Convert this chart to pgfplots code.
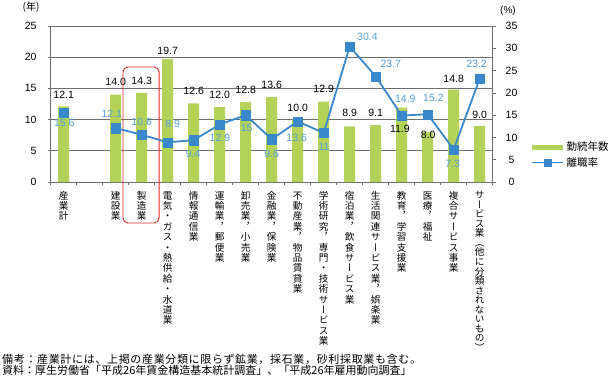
\documentclass[border=0pt]{standalone}
\usepackage{fontspec}
\setmainfont{Liberation Sans}
\newfontfamily\jp{Noto Sans CJK JP}
\newfontfamily\jpls[LetterSpace=6]{Noto Sans CJK JP}
\newfontfamily\jpv[RawFeature=+vert]{Noto Sans CJK JP}
\usepackage{pgfplots}
\pgfplotsset{compat=1.18}
\definecolor{barg}{RGB}{180,210,88}
\definecolor{lineb}{RGB}{58,136,204}
\definecolor{labb}{RGB}{84,158,220}
\definecolor{gridc}{RGB}{110,110,110}
\definecolor{boxr}{RGB}{225,40,40}
\pgfplotsset{
  legbar/.style={legend image code/.code={\draw[##1] (0pt,0pt) -- (31pt,0pt);}},
  legline/.style={legend image code/.code={\draw[##1, mark size=3.6pt, line width=1.4pt, mark repeat=2, mark phase=2] plot coordinates {(0pt,0pt) (15.5pt,0pt) (31pt,0pt)};}},
}
\makeatletter
\newcommand\vt[2][10.4]{\def\vt@h{#1}\vbox{\offinterlineskip\vt@a#2\relax}}
\def\vt@a#1{\ifx\relax#1\else\hbox to 10pt{\hss\vrule height \dimexpr\vt@h pt/2+3.7pt\relax depth \dimexpr\vt@h pt/2-3.7pt\relax width 0pt\jpv\fontsize{9.6}{10}\selectfont #1\hss}\expandafter\vt@a\fi}
\makeatother
\newcommand\numf{\fontsize{10.5}{12}\selectfont}
\begin{document}
\begin{tikzpicture}
\useasboundingbox (0,0) rectangle (608pt,386pt);
\begin{axis}[
  at={(50.7pt,204pt)}, anchor=south west,
  scale only axis, width=442pt, height=156pt,
  xmin=-0.5, xmax=16.5, ymin=0, ymax=25,
  ytick={0,5,...,25},
  xtick={-0.5,0.5,...,16.5},
  x tick label as interval,
  xticklabels={{\vt{産業計}},{},{\vt{建設業}},{\vt{製造業}},{\vt{電気・ガス・熱供給・水道業}},{\vt{情報通信業}},{\vt{運輸業，郵便業}},{\vt{卸売業，小売業}},{\vt{金融業，保険業}},{\vt{不動産業，物品賃貸業}},{\vt{学術研究，専門・技術サービス業}},{\vt{宿泊業，飲食サービス業}},{\vt{生活関連サービス業，娯楽業}},{\vt{教育，学習支援業}},{\vt{医療，福祉}},{\vt{複合サービス事業}},{\vt[9.55]{サービス業（他に分類されないもの）}}},
  xticklabel style={anchor=north, inner sep=0pt, yshift=-5pt},
  axis x line*=bottom, axis y line*=left,
  axis line style={gridc, line width=0.7pt},
  ymajorgrids, grid style={gridc, line width=0.7pt},
  tick align=outside, major tick length=3pt,
  tick style={gridc, line width=0.7pt},
  yticklabel style={font=\numf, anchor=east, inner sep=0pt, xshift=-11pt},
  /pgf/number format/assume math mode=true,
  clip=false,
]
\addplot[ybar, bar width=11pt, fill=barg, draw=none] coordinates {
 (0,12.1) (2,14.0) (3,14.3) (4,19.7) (5,12.6) (6,12.0) (7,12.8) (8,13.6)
 (9,10.0) (10,12.9) (11,8.9) (12,9.1) (13,11.9) (14,8.0) (15,14.8) (16,9.0)};
\begin{scope}[every node/.style={font=\numf, text=black, inner sep=0pt}]
\node at (axis cs:0,13.94) {12.1};
\node at (axis cs:2,16.07) {14.0};
\node at (axis cs:3,16.19) {14.3};
\node at (axis cs:4,21.04) {19.7};
\node at (axis cs:5,14.58) {12.6};
\node at (axis cs:6,13.94) {12.0};
\node at (axis cs:7,14.74) {12.8};
\node at (axis cs:8,15.54) {13.6};
\node at (axis cs:9,11.91) {10.0};
\node at (axis cs:10,14.86) {12.9};
\node at (axis cs:11,11.01) {8.9};
\node at (axis cs:12,11.01) {9.1};
\node at (axis cs:12.93,8.45) {11.9};
\node at (axis cs:14.02,7.53) {8.0};
\node at (axis cs:15,16.51) {14.8};
\node at (axis cs:16,10.74) {9.0};
\end{scope}
\begin{scope}[every node/.style={font=\numf, text=labb, inner sep=0pt}]
\node at (axis cs:0.02,9.41) {15.6};
\node at (axis cs:1.85,10.85) {12.1};
\node at (axis cs:3.0,9.57) {10.6};
\node at (axis cs:4.19,9.25) {8.9};
\node at (axis cs:4.98,4.54) {9.4};
\node at (axis cs:6.01,7.10) {12.9};
\node at (axis cs:7.04,8.61) {15};
\node at (axis cs:8.0,4.44) {9.6};
\node at (axis cs:8.96,7.00) {13.6};
\node at (axis cs:10.01,5.66) {11};
\node at (axis cs:11.68,23.29) {30.4};
\node at (axis cs:12.58,18.86) {23.7};
\node at (axis cs:13.14,13.30) {14.9};
\node at (axis cs:14.22,13.51) {15.2};
\node at (axis cs:14.96,2.88) {7.3};
\node at (axis cs:15.88,18.86) {23.2};
\end{scope}
\draw[boxr, line width=0.9pt, rounded corners=5pt] (axis cs:2.28,-6.57) rectangle (axis cs:3.67,18.43);
\end{axis}
\begin{axis}[
  at={(50.7pt,204pt)}, anchor=south west,
  scale only axis, width=442pt, height=156pt,
  xmin=-0.5, xmax=16.5, ymin=0, ymax=35,
  ytick={0,5,...,35},
  axis y line*=right, axis x line=none,
  axis line style={gridc, line width=0.7pt},
  tick align=outside, major tick length=3pt,
  tick style={gridc, line width=0.7pt},
  yticklabel style={font=\numf, anchor=center, inner sep=0pt, xshift=15.8pt},
  /pgf/number format/assume math mode=true,
  clip=false,
  legend style={at={(1.083,0.175)}, anchor=west, draw=none, fill=none,
    font=\jp\fontsize{10.5}{12}\selectfont, inner sep=0pt, row sep=3pt,
    nodes={inner sep=1pt}},
  legend cell align=left,
]
\addlegendimage{barg, line width=5pt, legbar}
\addlegendentry{勤続年数}
\addplot[lineb, line width=1.8pt, mark=square*, mark size=4.6pt, mark options={solid, line width=0.3pt}, legline]
 coordinates {(2,12.1) (3,10.6) (4,8.9) (5,9.4) (6,12.9) (7,15) (8,9.6) (9,13.6)
  (10,11) (11,30.4) (12,23.7) (13,14.9) (14,15.2) (15,7.3) (16,23.2)};
\addlegendentry{離職率}
\addplot[forget plot, only marks, lineb, mark=square*, mark size=4.6pt, mark options={line width=0.3pt}] coordinates {(0,15.6)};
\end{axis}
\node[font=\jp\fontsize{10}{12}\selectfont, inner sep=0pt] at (31pt,379pt) {(年)};
\node[font=\fontsize{10}{12}\selectfont, inner sep=0pt] at (508pt,375pt) {(\%)};
\node[font=\jpls\fontsize{11}{11}\selectfont, anchor=base west, inner sep=0pt] at (2pt,22.8pt) {備考：産業計には、上掲の産業分類に限らず鉱業，採石業，砂利採取業も含む。};
\node[font=\jp\fontsize{11}{11}\selectfont, anchor=base west, inner sep=0pt] at (2pt,11.8pt) {資料：厚生労働省「平成26年賃金構造基本統計調査」、「平成26年雇用動向調査」};
\end{tikzpicture}
\end{document}
